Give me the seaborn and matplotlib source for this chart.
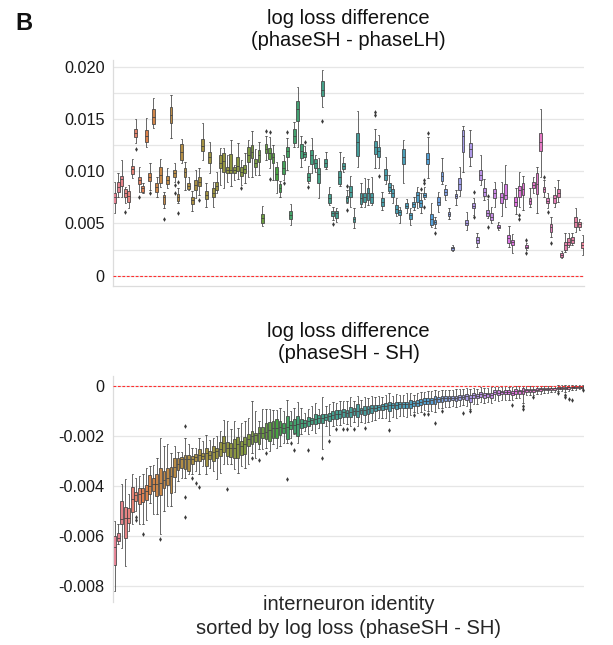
import numpy as np
import pandas as pd
import matplotlib
matplotlib.use("Agg")
import matplotlib.pyplot as plt
import seaborn as sns

SCALE = 1e-3  # all values below are in units of 1e-3

# ---------------- top panel: phaseSH - phaseLH (per neuron box stats) -------------
top_lo = [6.03, 7.56, 7.56, 6.92, 6.44, 9.31, 12.67, 8.04, 7.88, 12.28,
          8.20, 14.10, 7.56, 8.52, 6.44, 8.36, 13.14, 9.00, 6.92, 10.75,
          8.20, 8.20, 6.22, 7.40, 7.72, 11.07, 6.60, 9.79, 6.60, 7.88,
          8.68, 8.36, 9.00, 8.58, 9.16, 9.22, 8.68, 8.90, 9.47, 9.41,
          9.63, 9.63, 4.75, 11.07, 10.27, 9.20, 7.88, 7.56, 9.16, 10.11,
          4.85, 12.35, 12.28, 10.37, 11.07, 8.84, 9.79, 9.95, 7.40, 16.17,
          10.20, 6.76, 5.33, 5.17, 8.58, 9.95, 6.92, 6.60, 4.53, 10.37,
          6.60, 6.60, 6.76, 6.76, 10.27, 10.27, 6.28, 8.77, 7.88, 6.99,
          5.71, 5.01, 8.90, 5.97, 4.85, 6.28, 6.44, 6.03, 7.31, 9.31,
          4.69, 4.53, 6.13, 8.77, 7.24, 5.39, 2.39, 6.76, 7.62, 9.95,
          4.37, 10.50, 5.81, 2.78, 8.68, 7.24, 5.49, 5.01, 6.60, 4.37,
          5.71, 6.60, 2.71, 2.20, 5.90, 6.60, 6.28, 2.50, 6.60, 7.88,
          5.97, 9.47, 7.56, 6.44, 3.73, 6.60, 7.08, 1.66, 2.30, 2.71,
          2.94, 4.21, 4.37, 1.98]
top_q1 = [6.99, 8.04, 8.58, 7.56, 7.08, 9.70, 13.30, 8.77, 8.04, 12.82,
          9.09, 14.48, 8.04, 8.90, 6.86, 8.77, 14.58, 9.47, 7.15, 11.07,
          9.47, 8.26, 6.86, 8.20, 8.58, 11.96, 7.31, 10.75, 7.50, 8.20,
          10.27, 9.95, 9.79, 9.79, 9.79, 10.02, 9.54, 9.79, 10.91, 11.23,
          10.37, 10.91, 5.07, 11.77, 11.13, 10.75, 9.16, 7.97, 9.70, 11.39,
          5.39, 12.73, 14.83, 11.23, 11.33, 9.09, 10.69, 10.27, 8.90, 17.19,
          10.43, 6.99, 5.71, 5.49, 8.77, 10.18, 7.08, 7.50, 5.11, 11.45,
          6.86, 7.08, 7.24, 6.99, 11.64, 11.33, 6.67, 9.16, 8.10, 7.50,
          5.97, 5.81, 10.69, 6.44, 5.39, 6.60, 7.08, 6.60, 7.50, 10.69,
          4.85, 4.95, 6.76, 9.09, 7.72, 5.71, 2.46, 7.40, 8.20, 11.87,
          4.85, 11.39, 6.44, 3.10, 9.16, 7.62, 5.71, 5.33, 7.40, 4.53,
          6.92, 7.31, 3.16, 2.94, 6.67, 7.50, 7.72, 2.64, 6.86, 8.36,
          7.82, 11.96, 7.97, 6.92, 4.21, 6.99, 7.50, 1.82, 2.46, 2.94,
          3.16, 4.69, 4.69, 2.62]
top_med = [7.56, 8.52, 9.22, 7.94, 7.62, 10.18, 13.69, 9.16, 8.36, 13.37,
           9.47, 15.22, 8.52, 9.63, 7.56, 9.16, 15.38, 9.86, 7.56, 11.87,
           9.89, 8.58, 7.24, 8.68, 9.00, 12.41, 7.72, 11.39, 7.88, 8.61,
           10.75, 11.00, 10.11, 10.11, 10.11, 10.50, 9.95, 10.18, 11.55, 11.87,
           10.81, 11.55, 5.49, 12.09, 11.71, 11.33, 9.73, 8.36, 10.27, 11.96,
           5.81, 13.37, 15.92, 11.96, 11.64, 9.47, 11.55, 10.75, 9.73, 17.77,
           10.81, 7.40, 5.97, 5.97, 9.47, 10.50, 7.40, 8.04, 5.39, 12.76,
           7.40, 7.56, 7.94, 7.56, 12.28, 11.96, 7.08, 9.63, 8.52, 7.94,
           6.35, 6.13, 11.39, 6.70, 5.81, 6.86, 7.72, 6.92, 7.72, 11.17,
           5.39, 5.14, 7.08, 9.54, 8.01, 5.90, 2.62, 7.62, 8.77, 13.37,
           5.07, 12.09, 6.70, 3.41, 9.63, 8.04, 6.03, 5.65, 7.88, 4.69,
           7.56, 7.72, 3.57, 3.19, 7.08, 8.20, 8.26, 2.78, 7.12, 8.68,
           8.77, 12.82, 8.26, 7.18, 4.63, 7.40, 7.88, 2.01, 2.94, 3.25,
           3.41, 5.17, 4.95, 2.94]
top_q3 = [7.94, 8.93, 9.57, 8.26, 8.10, 10.50, 14.04, 9.47, 8.61, 13.94,
          9.79, 15.92, 8.84, 10.37, 7.72, 9.54, 16.17, 10.11, 7.78, 12.57,
          10.27, 8.84, 7.56, 9.16, 9.41, 13.11, 8.10, 11.87, 8.36, 9.00,
          11.55, 11.71, 10.37, 11.64, 10.37, 11.39, 10.37, 10.59, 12.28, 12.51,
          11.13, 12.03, 5.90, 12.57, 12.19, 11.77, 10.43, 8.74, 10.97, 12.28,
          6.22, 14.00, 16.72, 12.60, 11.87, 9.79, 12.03, 11.13, 10.27, 18.63,
          11.17, 7.82, 6.22, 6.22, 10.02, 10.75, 7.62, 8.58, 5.65, 13.69,
          7.94, 7.94, 8.42, 7.94, 12.89, 12.28, 7.46, 10.18, 8.84, 8.26,
          6.73, 6.28, 12.15, 6.92, 6.03, 7.08, 8.04, 7.24, 7.94, 11.71,
          5.90, 5.33, 7.50, 9.95, 8.26, 6.13, 2.71, 7.82, 9.31, 13.94,
          5.33, 12.67, 6.92, 3.73, 10.11, 8.36, 6.28, 6.03, 8.26, 4.85,
          7.88, 8.77, 3.89, 3.41, 7.50, 8.58, 8.84, 2.93, 7.40, 9.00,
          9.79, 13.69, 8.52, 7.46, 4.95, 7.72, 8.26, 2.20, 3.25, 3.57,
          3.73, 5.65, 5.17, 3.25]
top_hi = [9.00, 9.79, 11.07, 8.52, 8.68, 11.13, 14.96, 10.37, 8.90, 15.06,
          10.75, 16.97, 9.41, 11.13, 8.04, 10.27, 17.29, 10.81, 8.36, 13.05,
          10.90, 9.41, 8.14, 10.11, 10.27, 14.58, 8.84, 12.82, 9.00, 9.95,
          12.19, 12.19, 11.55, 12.98, 10.59, 12.67, 11.07, 11.71, 12.98, 13.88,
          12.09, 12.82, 6.67, 13.37, 13.24, 12.51, 10.91, 9.09, 11.55, 13.14,
          6.86, 14.74, 18.02, 13.37, 12.41, 10.50, 13.14, 11.55, 11.23, 19.68,
          11.87, 8.52, 6.60, 6.44, 11.87, 11.39, 8.20, 9.54, 6.44, 15.79,
          8.84, 9.31, 9.22, 9.41, 14.00, 13.46, 8.04, 11.33, 9.63, 8.68,
          7.40, 6.60, 12.98, 7.31, 6.44, 7.56, 8.52, 7.88, 8.52, 13.30,
          6.92, 5.65, 8.04, 11.23, 8.68, 6.44, 2.94, 8.20, 10.43, 14.32,
          6.13, 13.94, 7.40, 4.12, 11.55, 9.22, 7.31, 6.60, 9.00, 5.17,
          9.00, 10.59, 4.75, 3.99, 8.36, 9.95, 9.54, 3.10, 8.36, 9.47,
          10.37, 15.92, 9.16, 7.88, 5.65, 8.52, 9.16, 2.39, 4.05, 4.05,
          4.05, 6.44, 5.39, 3.89]
top_out_idx = [3, 6, 7, 10, 14, 17, 17, 18, 18, 24, 36, 43, 44, 44, 48, 49, 54, 55,
               59, 62, 66, 66, 74, 74, 75, 87, 88, 88, 88, 89, 91, 102, 102, 106,
               106, 115, 115, 117, 117, 122, 123, 124]
top_out_val = [6.13, 12.15, 7.50, 7.94, 5.46, 8.68, 7.94, 9.00, 6.03, 7.24, 8.36,
               13.85, 13.75, 9.22, 8.90, 13.78, 12.82, 8.52, 14.83, 4.91, 8.58, 6.28,
               15.70, 15.38, 9.54, 8.30, 9.16, 8.90, 6.60, 13.69, 4.12, 8.04, 5.58,
               7.62, 4.63, 5.81, 5.39, 3.42, 2.20, 9.41, 6.13, 3.16]

# ---------------- bottom panel: phaseSH - SH (per neuron box stats) ----------------
bot_lo = [-8.22, -6.35, -6.51, -7.22, -5.82, -5.55, -5.01, -5.55, -5.55, -5.39,
          -4.68, -5.12, -5.15, -5.92, -5.01, -4.81, -4.81, -4.24, -3.81, -3.68,
          -3.68, -3.54, -3.54, -3.41, -3.54, -3.21, -3.54, -3.28, -3.41, -3.74,
          -3.48, -3.12, -3.14, -3.12, -3.34, -3.48, -3.21, -3.28, -3.14, -2.68,
          -2.88, -2.54, -2.54, -2.47, -2.61, -2.34, -2.47, -2.41, -2.27, -2.27,
          -2.07, -1.94, -2.27, -1.94, -1.81, -1.94, -1.75, -1.87, -1.70, -2.54,
          -1.62, -1.97, -1.60, -1.55, -1.55, -1.50, -1.52, -1.62, -1.45, -1.60,
          -1.45, -1.50, -1.45, -1.40, -1.35, -1.30, -1.28, -1.30, -1.40, -1.25,
          -1.30, -1.22, -1.20, -1.25, -1.18, -1.05, -1.10, -1.05, -0.98, -1.02,
          -1.00, -1.05, -0.90, -0.88, -0.85, -0.85, -0.82, -0.85, -0.80, -0.78,
          -0.82, -0.94, -0.72, -0.72, -0.65, -0.70, -0.66, -0.70, -0.55, -0.60,
          -0.55, -0.55, -0.55, -0.58, -0.50, -0.50, -0.67, -0.38, -0.38, -0.36,
          -0.34, -0.32, -0.30, -0.30, -0.26, -0.26, -0.22, -0.22, -0.24, -0.20,
          -0.18, -0.16, -0.14, -0.14]
bot_q1 = [-7.18, -6.22, -5.52, -6.08, -5.48, -5.04, -4.61, -4.75, -4.64, -4.59,
          -4.35, -4.21, -4.41, -4.37, -4.08, -3.97, -4.28, -3.65, -3.38, -3.28,
          -3.34, -3.41, -3.12, -3.01, -3.01, -2.94, -3.21, -2.94, -3.01, -2.88,
          -2.81, -2.63, -2.81, -2.85, -2.88, -2.90, -2.77, -2.74, -2.41, -2.34,
          -2.23, -2.34, -2.10, -2.14, -2.21, -2.07, -2.10, -1.97, -1.87, -2.14,
          -1.74, -1.87, -2.01, -1.67, -1.65, -1.61, -1.54, -1.54, -1.47, -1.47,
          -1.38, -1.40, -1.34, -1.34, -1.30, -1.24, -1.24, -1.24, -1.16, -1.24,
          -1.14, -1.16, -1.11, -1.07, -1.00, -0.98, -0.95, -0.94, -1.00, -0.90,
          -0.94, -0.90, -0.87, -0.90, -0.87, -0.80, -0.80, -0.76, -0.74, -0.74,
          -0.71, -0.74, -0.63, -0.63, -0.60, -0.60, -0.58, -0.60, -0.58, -0.54,
          -0.58, -0.63, -0.50, -0.50, -0.44, -0.47, -0.44, -0.47, -0.34, -0.36,
          -0.34, -0.34, -0.34, -0.36, -0.31, -0.31, -0.34, -0.23, -0.23, -0.23,
          -0.20, -0.20, -0.17, -0.17, -0.15, -0.15, -0.13, -0.12, -0.12, -0.11,
          -0.09, -0.08, -0.07, -0.07]
bot_med = [-6.46, -6.08, -5.35, -5.28, -5.28, -4.55, -4.37, -4.35, -4.28, -4.21,
           -4.01, -3.95, -3.92, -3.88, -3.78, -3.68, -3.61, -3.25, -3.14, -2.94,
           -2.94, -2.94, -2.94, -2.85, -2.77, -2.81, -2.68, -2.77, -2.63, -2.61,
           -2.54, -2.27, -2.47, -2.50, -2.47, -2.34, -2.41, -2.31, -2.14, -2.01,
           -1.97, -1.87, -1.87, -1.83, -1.78, -1.67, -1.67, -1.65, -1.67, -1.65,
           -1.58, -1.58, -1.54, -1.47, -1.47, -1.40, -1.38, -1.34, -1.27, -1.30,
           -1.24, -1.20, -1.16, -1.14, -1.11, -1.03, -1.07, -1.03, -1.00, -1.00,
           -0.98, -0.96, -0.94, -0.90, -0.87, -0.84, -0.82, -0.80, -0.76, -0.78,
           -0.76, -0.74, -0.74, -0.74, -0.71, -0.70, -0.67, -0.63, -0.60, -0.60,
           -0.58, -0.54, -0.52, -0.50, -0.50, -0.47, -0.47, -0.47, -0.44, -0.44,
           -0.42, -0.47, -0.36, -0.40, -0.34, -0.36, -0.34, -0.36, -0.23, -0.27,
           -0.26, -0.23, -0.24, -0.27, -0.20, -0.20, -0.20, -0.17, -0.16, -0.17,
           -0.15, -0.13, -0.12, -0.11, -0.09, -0.09, -0.08, -0.07, -0.07, -0.05,
           -0.05, -0.04, -0.03, -0.03]
bot_q3 = [-6.02, -5.88, -4.61, -4.85, -4.91, -4.05, -4.24, -4.11, -4.08, -3.97,
          -3.57, -3.68, -3.52, -3.30, -3.41, -3.30, -3.25, -2.88, -2.88, -2.85,
          -2.77, -2.77, -2.81, -2.72, -2.54, -2.68, -2.47, -2.61, -2.41, -2.47,
          -2.23, -2.01, -2.23, -2.27, -2.14, -2.05, -2.21, -2.05, -1.94, -1.81,
          -1.87, -1.65, -1.65, -1.47, -1.43, -1.40, -1.34, -1.40, -1.47, -1.20,
          -1.40, -1.34, -1.20, -1.34, -1.38, -1.24, -1.27, -1.14, -1.16, -1.14,
          -1.11, -1.07, -1.00, -0.98, -0.98, -0.94, -0.98, -0.84, -0.90, -0.74,
          -0.87, -0.80, -0.80, -0.76, -0.76, -0.76, -0.74, -0.67, -0.63, -0.67,
          -0.63, -0.63, -0.63, -0.63, -0.58, -0.60, -0.58, -0.54, -0.50, -0.50,
          -0.47, -0.40, -0.44, -0.40, -0.40, -0.40, -0.40, -0.40, -0.36, -0.36,
          -0.34, -0.36, -0.27, -0.34, -0.23, -0.27, -0.27, -0.27, -0.17, -0.17,
          -0.20, -0.17, -0.17, -0.20, -0.13, -0.15, -0.09, -0.13, -0.11, -0.13,
          -0.09, -0.09, -0.07, -0.07, -0.07, -0.07, -0.05, -0.04, -0.04, -0.03,
          -0.03, -0.02, -0.02, -0.02]
bot_hi = [-5.42, -5.55, -3.95, -3.74, -4.35, -3.54, -3.68, -3.61, -3.54, -3.28,
          -3.21, -3.17, -2.88, -2.10, -2.41, -2.34, -2.68, -2.41, -2.63, -2.63,
          -2.10, -2.34, -2.47, -2.47, -2.07, -2.21, -1.97, -2.18, -2.07, -2.01,
          -1.81, -1.38, -1.40, -1.74, -1.40, -1.67, -1.47, -1.40, -1.27, -0.60,
          -1.00, -1.40, -0.94, -0.94, -0.94, -0.98, -0.98, -0.87, -1.00, -0.58,
          -1.00, -0.90, -0.63, -0.87, -1.07, -0.94, -0.80, -0.67, -0.94, -0.44,
          -0.80, -0.74, -0.65, -0.70, -0.62, -0.62, -0.60, -0.45, -0.60, -0.42,
          -0.55, -0.45, -0.50, -0.40, -0.45, -0.42, -0.45, -0.35, -0.30, -0.40,
          -0.32, -0.35, -0.35, -0.30, -0.28, -0.35, -0.30, -0.25, -0.25, -0.22,
          -0.20, -0.15, -0.20, -0.18, -0.18, -0.15, -0.15, -0.12, -0.12, -0.12,
          -0.10, -0.13, -0.08, -0.12, -0.05, -0.08, -0.07, -0.06, -0.03, -0.04,
          -0.04, -0.02, -0.03, -0.04, -0.01, -0.02, 0.00, 0.00, 0.00, 0.00,
          0.01, 0.00, 0.01, 0.01, 0.01, 0.01, 0.02, 0.02, 0.02, 0.02,
          0.02, 0.02, 0.02, 0.02]
bot_out_idx = [6, 6, 8, 13, 20, 20, 20, 22, 23, 24, 32, 39, 41, 43, 49, 50, 51, 55,
               59, 61, 63, 65, 66, 68, 71, 78, 85, 88, 89, 91, 93, 99, 101, 113,
               116, 116, 119, 126, 128, 128, 129, 130, 133]
bot_out_val = [-5.26, -5.38, -5.92, -6.15, -1.61, -4.45, -5.26, -3.70, -3.90, -4.05,
               -4.15, -2.88, -2.98, -2.68, -3.74, -2.27, -2.58, -2.58, -2.88, -2.21,
               -1.74, -1.74, -1.74, -1.74, -1.70, -1.77, -1.16, -1.11, -1.14, -1.50,
               -1.00, -1.07, -1.02, -0.75, -0.80, -0.94, -0.45, -0.30, -0.38, -0.46,
               -0.52, -0.56, -0.18]

top_title = "log loss difference\n(phaseSH - phaseLH)"
bot_title = "log loss difference\n(phaseSH - SH)"
bot_xlabel = "interneuron identity\nsorted by log loss (phaseSH - SH)"
top_ticks = [0, 0.0025, 0.005, 0.0075, 0.010, 0.0125, 0.015, 0.0175, 0.020]
top_ticklabels = ["0", "", "0.005", "", "0.010", "", "0.015", "", "0.020"]
bot_ticks = [0, -0.002, -0.004, -0.006, -0.008]
bot_ticklabels = ["0", "-0.002", "-0.004", "-0.006", "-0.008"]

N = len(top_med)
for arr in (top_lo, top_q1, top_q3, top_hi, bot_lo, bot_q1, bot_med, bot_q3, bot_hi):
    if len(arr) != N:
        raise ValueError(f"length mismatch {len(arr)} vs {N}")
if len(top_out_idx) != len(top_out_val) or len(bot_out_idx) != len(bot_out_val):
    raise ValueError("outlier length mismatch")

names = [f"n{i:03d}" for i in range(N)]


def long_frame(lo, q1, med, q3, hi):
    rows = []
    for i in range(N):
        for v in (lo[i], q1[i], med[i], q3[i], hi[i]):
            rows.append((names[i], v * SCALE))
    return pd.DataFrame(rows, columns=["neuron", "value"])


top_df = long_frame(top_lo, top_q1, top_med, top_q3, top_hi)
bot_df = long_frame(bot_lo, bot_q1, bot_med, bot_q3, bot_hi)

sns.set_theme(style="whitegrid")
plt.rcParams["font.family"] = ["Liberation Sans", "DejaVu Sans"]
plt.rcParams["text.color"] = "#111111"

fig = plt.figure(figsize=(6.13, 6.45), dpi=100)
ax1 = fig.add_axes([0.1842, 0.5571, 0.7693, 0.3499])
ax2 = fig.add_axes([0.1842, 0.0667, 0.7693, 0.3504])

pal = sns.husl_palette(N)

for ax, df, oi, ov in ((ax1, top_df, top_out_idx, top_out_val),
                       (ax2, bot_df, bot_out_idx, bot_out_val)):
    sns.boxplot(data=df, x="neuron", y="value", hue="neuron", order=names,
                hue_order=names, palette=pal, legend=False, whis=(0, 100),
                showfliers=False, linewidth=0.55, width=0.8, ax=ax)
    sns.stripplot(x=[names[i] for i in oi], y=[v * SCALE for v in ov],
                  order=names, jitter=False, marker="d", color="#3a3a3a",
                  size=2.4, linewidth=0, ax=ax)
    ax.axhline(0, color="#ff3030", lw=0.8, ls=(0, (2.5, 1.5)), zorder=3)
    ax.set_xticks([])
    ax.set_xlabel("")
    ax.set_ylabel("")
    ax.grid(axis="y", color="#e6e6e6", lw=0.9)
    ax.grid(axis="x", visible=False)
    ax.tick_params(axis="y", labelsize=11.7, pad=6, colors="#1a1a1a", length=0)
    for s in ax.spines.values():
        s.set_color("#dcdcdc")
        s.set_linewidth(0.9)
    ax.set_xlim(-0.5, N - 0.5)

ax1.set_yticks(top_ticks)
ax1.set_yticklabels(top_ticklabels)
ax1.set_ylim(-0.00096, 0.02064)
sns.despine(ax=ax1, top=True, right=True)
ax1.set_title(top_title, fontsize=14.5, pad=10)

ax2.set_yticks(bot_ticks)
ax2.set_yticklabels(bot_ticklabels)
ax2.set_ylim(-0.00866, 0.0004)
sns.despine(ax=ax2, top=True, right=True, bottom=True)
ax2.set_title(bot_title, fontsize=14.5, pad=12)
ax2.set_xlabel(bot_xlabel, fontsize=14.5, labelpad=-5, linespacing=1.3)

fig.text(15 / 613, 1 - 30 / 645, "B", fontsize=17, fontweight="bold",
         va="baseline", ha="left")

fig.savefig("out.png", dpi=100)
